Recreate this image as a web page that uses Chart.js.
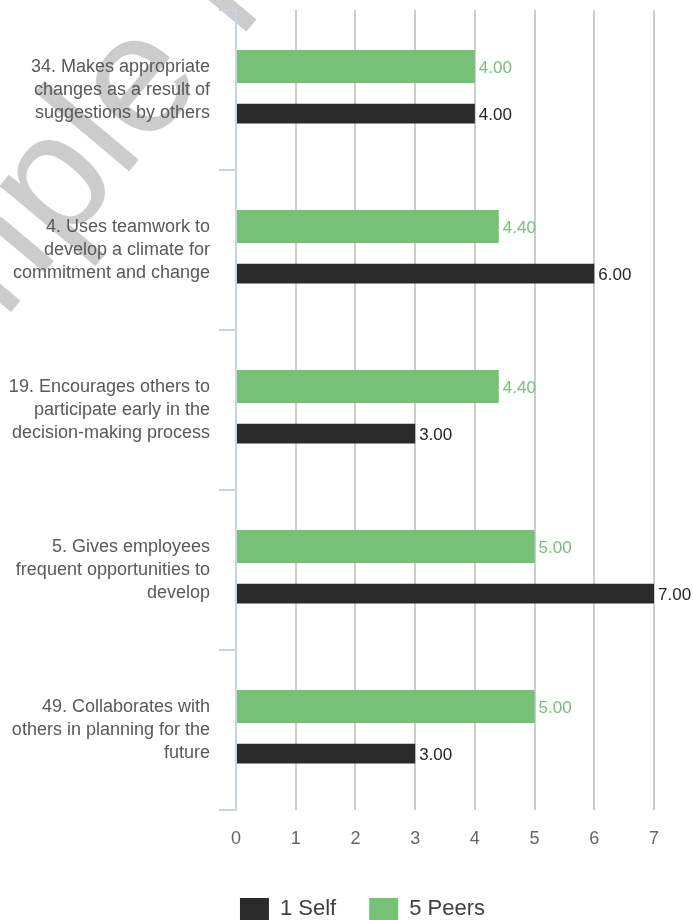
<!DOCTYPE html>
<html>
<head>
<meta charset="utf-8">
<title>Feedback scores</title>
<script src="https://cdn.jsdelivr.net/npm/chart.js@4.4.0/dist/chart.umd.min.js"></script>
<style>
    html, body { margin: 0; padding: 0; background: #fff; overflow: hidden; }
    #barChart { display: block; }
</style>
</head>
<body>
<canvas id="barChart" width="693" height="930"></canvas>
<script>
'use strict';

var categories = [
    ['34. Makes appropriate', 'changes as a result of', 'suggestions by others'],
    ['4. Uses teamwork to', 'develop a climate for', 'commitment and change'],
    ['19. Encourages others to', 'participate early in the', 'decision-making process'],
    ['5. Gives employees', 'frequent opportunities to', 'develop'],
    ['49. Collaborates with', 'others in planning for the', 'future']
];
var seriesNames = ['1 Self', '5 Peers'];
var selfScores = [4.00, 6.00, 3.00, 7.00, 3.00];
var peerScores = [4.00, 4.40, 4.40, 5.00, 5.00];
var scoreTicks = [0, 1, 2, 3, 4, 5, 6, 7];

var FONT = '"Liberation Sans", Arial, Helvetica, sans-serif';
var GREEN = '#75c175';
var BLACK = '#2a2a2a';
var AXIS_BLUE = '#c6d4e3';

Chart.defaults.font.family = FONT;

// big grey stamp behind the chart, pinned on the baseline under the stem of its "p"
var watermark = {
    id: 'watermark',
    beforeDraw: function (chart) {
        var ctx = chart.ctx;
        var size = 170;
        ctx.save();
        ctx.font = size + 'px ' + FONT;
        ctx.fillStyle = '#cccccc';
        ctx.textBaseline = 'alphabetic';
        var lead = ctx.measureText('Sam').width + size * 0.11;
        ctx.translate(73, 238);
        ctx.rotate(-50 * Math.PI / 180);
        ctx.fillText('Sample Report', -lead, 0);
        ctx.restore();
    }
};

// score printed just past the end of each bar
var valueLabels = {
    id: 'valueLabels',
    afterDatasetsDraw: function (chart) {
        var ctx = chart.ctx;
        ctx.save();
        ctx.font = '17px ' + FONT;
        ctx.textAlign = 'left';
        ctx.textBaseline = 'middle';
        chart.data.datasets.forEach(function (ds, i) {
            var meta = chart.getDatasetMeta(i);
            ctx.fillStyle = ds.labelColor;
            meta.data.forEach(function (bar, j) {
                ctx.fillText(ds.data[j].toFixed(2), bar.x + 4, bar.y + 2);
            });
        });
        ctx.restore();
    }
};

// legend sits a little right of the page centre
var legendShift = {
    id: 'legendShift',
    afterLayout: function (chart) {
        if (chart.legend) {
            chart.legend.left = 71;
        }
    }
};

var barChartCanvas = document.getElementById('barChart').getContext('2d');

var barChart = new Chart(barChartCanvas, {
    type: 'bar',
    data: {
        labels: categories,
        datasets: [
            {
                label: seriesNames[1],
                data: peerScores,
                backgroundColor: GREEN,
                borderWidth: 0,
                barPercentage: 0.70,
                categoryPercentage: 0.59,
                labelColor: GREEN
            },
            {
                label: seriesNames[0],
                data: selfScores,
                backgroundColor: BLACK,
                borderWidth: 0,
                barPercentage: 0.42,
                categoryPercentage: 0.59,
                labelColor: '#262626'
            }
        ]
    },
    options: {
        indexAxis: 'y',
        responsive: false,
        animation: false,
        layout: {
            padding: { top: 10, right: 39, bottom: 0, left: 0 }
        },
        plugins: {
            tooltip: { enabled: false },
            legend: {
                position: 'bottom',
                reverse: true,
                labels: {
                    boxWidth: 29,
                    boxHeight: 22,
                    padding: 33,
                    color: '#404040',
                    font: { size: 22 }
                }
            }
        },
        scales: {
            x: {
                min: scoreTicks[0],
                max: scoreTicks[scoreTicks.length - 1],
                border: { display: false },
                grid: {
                    drawTicks: false,
                    lineWidth: 2,
                    color: function (c) {
                        return c.index === 0 ? 'rgba(0,0,0,0)' : '#cccccc';
                    }
                },
                ticks: {
                    stepSize: 1,
                    padding: 18,
                    color: '#666666',
                    font: { size: 18 }
                },
                afterFit: function (scale) {
                    scale.height = 55;
                    scale.paddingLeft = 0;
                    scale.paddingRight = 0;
                }
            },
            y: {
                border: { color: AXIS_BLUE, width: 2 },
                grid: {
                    offset: true,
                    drawOnChartArea: false,
                    drawTicks: true,
                    tickLength: 17,
                    lineWidth: 2,
                    color: AXIS_BLUE
                },
                ticks: {
                    padding: 9,
                    color: '#595959',
                    font: { size: 18, lineHeight: 1.3 }
                },
                afterFit: function (scale) {
                    scale.width = 236;
                    scale.paddingTop = 0;
                    scale.paddingBottom = 0;
                }
            }
        }
    },
    plugins: [watermark, valueLabels, legendShift]
});
</script>
</body>
</html>
